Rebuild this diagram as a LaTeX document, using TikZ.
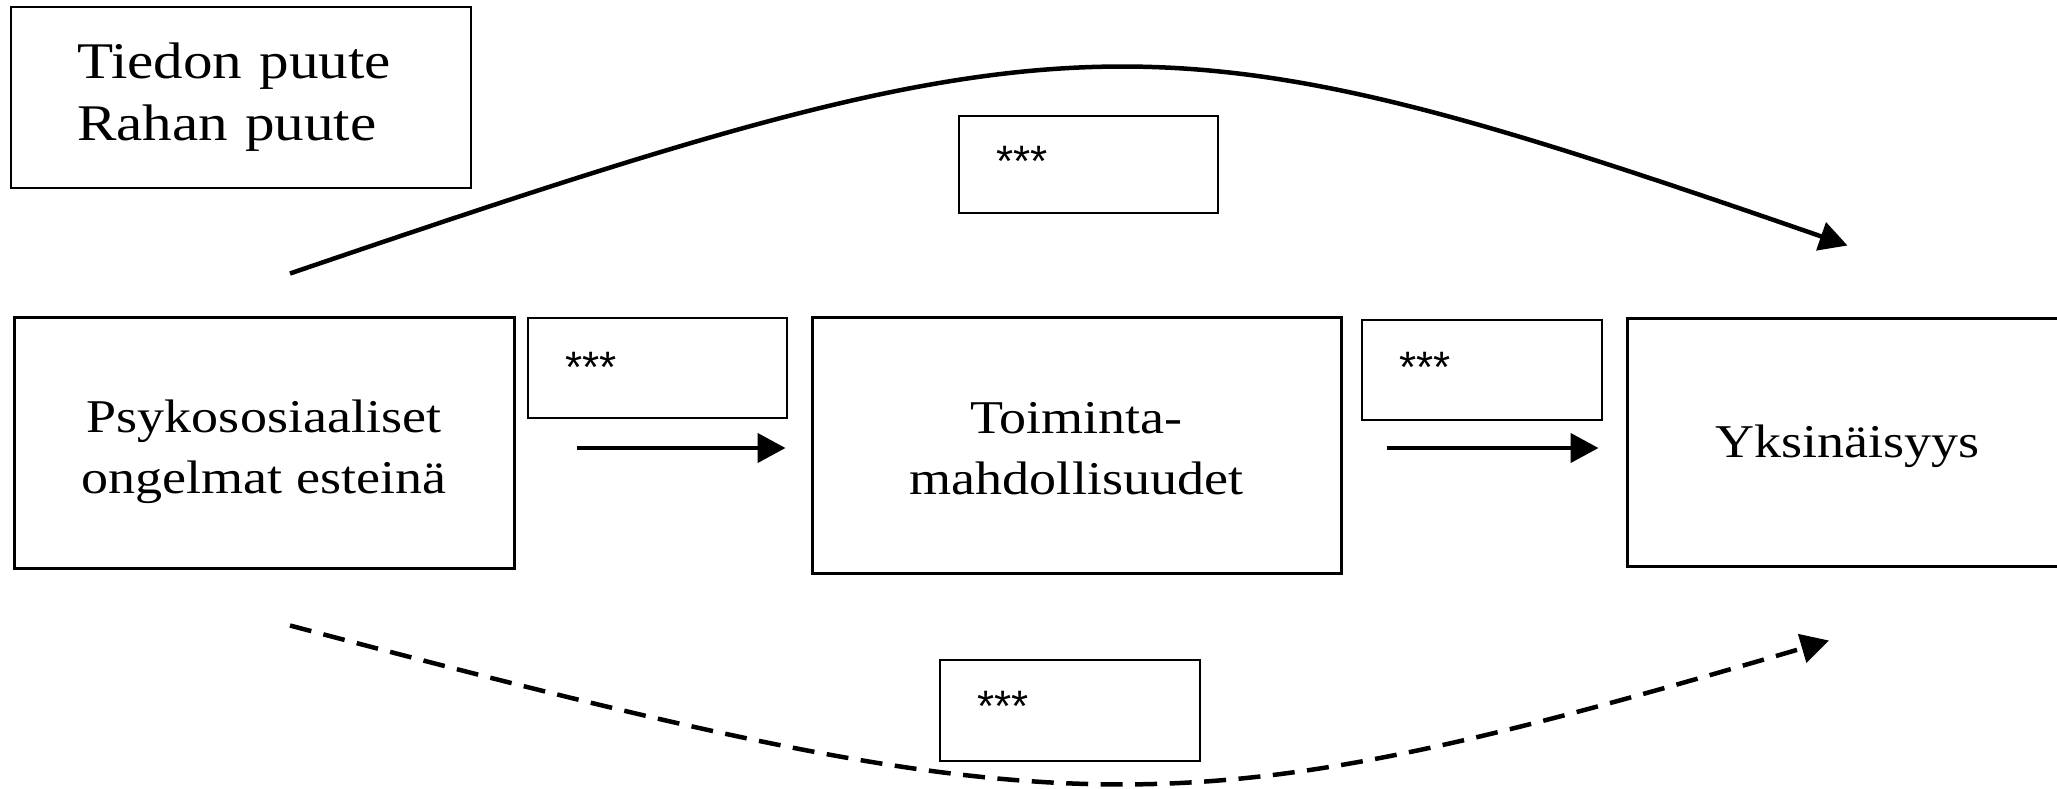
\documentclass[tikz,border=0pt]{standalone}
\usepackage{fontspec}
\setmainfont{Liberation Serif}[FakeStretch=1.15]
\setsansfont{Liberation Sans}
\usetikzlibrary{arrows.meta}
\begin{document}
\begin{tikzpicture}[x=0.5pt,y=-0.5pt,
  bigbox/.style={draw, line width=1.5pt, inner sep=0pt},
  bigtext/.style={inner sep=0pt, align=center, font=\fontsize{23.5}{30.5}\selectfont},
  notebox/.style={draw, line width=1pt, anchor=north west, inner xsep=33pt, inner ysep=0pt, align=left, font=\fontsize{25.7}{31}\selectfont},
  sigbox/.style={draw, line width=1pt, anchor=north west, inner xsep=18.5pt, inner ysep=0pt, align=left, font=\sffamily\fontsize{22}{24}\selectfont},
  arr/.style={line width=2.25pt, -{Triangle[length=14pt,width=14.5pt]}},
  carr/.style={line width=2.25pt, -{Triangle[length=14pt,width=14.5pt]}}
]
\useasboundingbox (0,0) rectangle (2057,788);

\node[notebox, text width=164pt, minimum height=90.5pt] (n) at (10,6) {Tiedon puute\\Rahan puute};

\node[bigbox, minimum width=250pt, minimum height=125.5pt] (p) at (264,442.5) {};
\node[bigbox, minimum width=264.5pt, minimum height=128pt] (t) at (1076.5,445) {};
\node[bigbox, minimum width=220.5pt, minimum height=124pt] (y) at (1847.5,442) {};
\node[bigtext] (pl) at (264,451.5) {Psykososiaaliset\\ongelmat esteinä};
\node[bigtext] (tl) at (1076.5,448.5) {Toiminta-\\mahdollisuudet};
\node[bigtext, anchor=base] (yl) at (1847.5,457) {Yksinäisyys};

\node[sigbox, text width=92.5pt, text height=30pt, text depth=18.5pt] (s0) at (958,115) {***};
\node[sigbox, text width=92.5pt, text height=32pt, text depth=18pt] (s1) at (527,317) {***};
\node[sigbox, text width=83pt, text height=31pt, text depth=19pt] (s2) at (1361,319) {***};
\node[sigbox, text width=93pt, text height=30.5pt, text depth=20pt] (s3) at (939,659) {***};

\draw[arr] ([xshift=30.5pt,yshift=-2.75pt]p.east) -- ([xshift=-12.5pt,yshift=-1.5pt]t.west);
\draw[arr] ([xshift=22pt,yshift=-1.5pt]t.east) -- ([xshift=-13.5pt,yshift=-3pt]y.west);

\draw[carr] ([xshift=13pt,yshift=21pt]p.north) .. controls (1080,4) and (1150,4) .. ([yshift=35.5pt]y.north);
\draw[carr, dash pattern=on 11pt off 6.25pt] ([xshift=13pt,yshift=-28pt]p.south) .. controls (1075,833.5) and (1170,833.5) .. ([xshift=-9.25pt,yshift=-36.5pt]y.south);
\end{tikzpicture}
\end{document}
